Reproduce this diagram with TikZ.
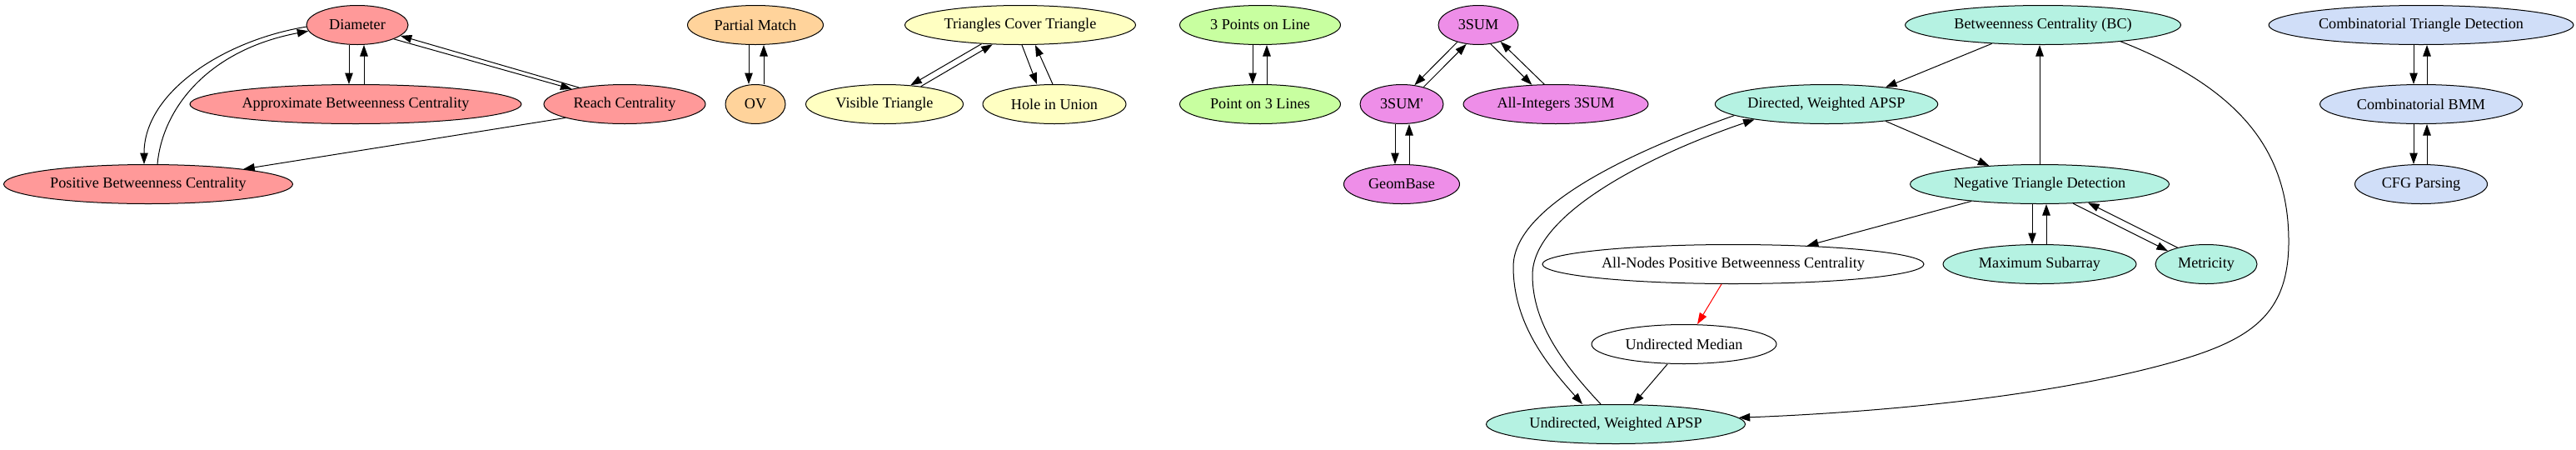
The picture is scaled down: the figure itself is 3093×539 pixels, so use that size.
\documentclass[tikz,border=0pt]{standalone}
\usepackage{fontspec}
\setmainfont{Liberation Serif}
\usetikzlibrary{shapes.geometric,arrows.meta}
\definecolor{cred}{HTML}{FF9999}
\definecolor{corange}{HTML}{FFD39B}
\definecolor{cyellow}{HTML}{FFFFC2}
\definecolor{cgreen}{HTML}{C8FFA0}
\definecolor{cpurple}{HTML}{EE8EE8}
\definecolor{cteal}{HTML}{B5F2E2}
\definecolor{cblue}{HTML}{D0DEF8}
\begin{document}
\begin{tikzpicture}[x=1pt,y=-1pt,
  nd/.style={ellipse,draw=black,line width=1pt,inner sep=0pt,minimum height=47pt,font=\fontsize{18.2}{22}\selectfont},
  ed/.style={line width=1pt,-{Triangle[length=13.5pt,width=9.5pt]}}]
\useasboundingbox (0,0) rectangle (3093,539);
% red
\node[nd,fill=cred,minimum width=122pt] (dia) at (429,30) {Diameter};
\node[nd,fill=cred,minimum width=398pt] (abc) at (427,125) {Approximate Betweenness Centrality};
\node[nd,fill=cred,minimum width=194pt] (reach) at (750,125) {Reach Centrality};
\node[nd,fill=cred,minimum width=347pt] (pbc) at (178,221) {Positive Betweenness Centrality};
% orange
\node[nd,fill=corange,minimum width=163pt] (pm) at (907,30) {Partial Match};
\node[nd,fill=corange,minimum width=72pt] (ov) at (907,125) {OV};
% yellow
\node[nd,fill=cyellow,minimum width=277pt] (tct) at (1225,30) {Triangles Cover Triangle};
\node[nd,fill=cyellow,minimum width=189pt] (vt) at (1062,125) {Visible Triangle};
\node[nd,fill=cyellow,minimum width=172pt] (hu) at (1266,125) {Hole in Union};
% green
\node[nd,fill=cgreen,minimum width=193pt] (p3l) at (1513,30) {3 Points on Line};
\node[nd,fill=cgreen,minimum width=193pt] (pol) at (1513,125) {Point on 3 Lines};
% purple
\node[nd,fill=cpurple,minimum width=96pt] (s3) at (1775,30) {3SUM};
\node[nd,fill=cpurple,minimum width=100pt] (s3p) at (1683,125) {3SUM\textquotesingle};
\node[nd,fill=cpurple,minimum width=222pt] (ai3) at (1868,125) {All-Integers 3SUM};
\node[nd,fill=cpurple,minimum width=139pt] (gb) at (1683,221) {GeomBase};
% teal
\node[nd,fill=cteal,minimum width=331pt] (bc) at (2453,30) {Betweenness Centrality (BC)};
\node[nd,fill=cteal,minimum width=257pt] (dwa) at (2193,125) {Directed, Weighted APSP};
\node[nd,fill=cteal,minimum width=311pt] (ntd) at (2449,221) {Negative Triangle Detection};
\node[nd,fill=white,minimum width=458pt] (anpbc) at (2081,317) {All-Nodes Positive Betweenness Centrality};
\node[nd,fill=cteal,minimum width=232pt] (ms) at (2449,317) {Maximum Subarray};
\node[nd,fill=cteal,minimum width=122pt] (met) at (2649,317) {Metricity};
\node[nd,fill=white,minimum width=222pt] (um) at (2022,413) {Undirected Median};
\node[nd,fill=cteal,minimum width=311pt] (uwa) at (1940,509) {Undirected, Weighted APSP};
% blue
\node[nd,fill=cblue,minimum width=366pt] (ctd) at (2907,30) {Combinatorial Triangle Detection};
\node[nd,fill=cblue,minimum width=243pt] (bmm) at (2907,125) {Combinatorial BMM};
\node[nd,fill=cblue,minimum width=159pt] (cfg) at (2907,221) {CFG Parsing};
% red edges
\draw[ed] ([xshift=-10pt]dia.south) -- ([xshift=-8pt]abc.north);
\draw[ed] ([xshift=10pt]abc.north) -- ([xshift=8pt]dia.south);
\draw[ed] (dia.-21) -- (reach.164);
\draw[ed] (reach.160) -- (dia.-14);
\draw[ed] (dia.182) .. controls (270,48) and (173,110) .. ([xshift=-5pt]pbc.north);
\draw[ed] ([xshift=11pt]pbc.north) .. controls (195,130) and (250,60) .. (dia.187);
\draw[ed] (reach.193) -- (pbc.9);
% orange edges
\draw[ed] ([xshift=-8pt]pm.south) -- ([xshift=-8pt]ov.north);
\draw[ed] ([xshift=10pt]ov.north) -- ([xshift=10pt]pm.south);
% yellow edges
\draw[ed] (tct.206) -- (vt.36);
\draw[ed] (vt.26) -- (tct.215);
\draw[ed] ([xshift=2pt]tct.south) -- ([xshift=-21pt]hu.north);
\draw[ed] ([xshift=-2pt]hu.north) -- ([xshift=18pt]tct.south);
% green edges
\draw[ed] ([xshift=-9pt]p3l.south) -- ([xshift=-9pt]pol.north);
\draw[ed] ([xshift=8pt]pol.north) -- ([xshift=8pt]p3l.south);
% purple edges
\draw[ed] (s3.219) -- (s3p.56);
\draw[ed] (s3p.38) -- (s3.238);
\draw[ed] (s3.303) -- (ai3.141);
\draw[ed] (ai3.120) -- (s3.323);
\draw[ed] ([xshift=-8pt]s3p.south) -- ([xshift=-8pt]gb.north);
\draw[ed] ([xshift=9pt]gb.north) -- ([xshift=9pt]s3p.south);
% teal edges
\draw[ed] (bc.200) -- (dwa.16);
\draw[ed] (dwa.-16) -- (ntd.160);
\draw[ed] (ntd.north) -- (ntd.north |- bc.south);
\draw[ed] (bc.-12) .. controls (2700,110) and (2748,190) .. (2748,290)
  .. controls (2748,380) and (2700,410) .. (2600,437)
  .. controls (2450,477.5) and (2250,495) .. (uwa.3);
\draw[ed] (ntd.194) -- (anpbc.14);
\draw[ed] ([xshift=-9pt]ntd.south) -- ([xshift=-9pt]ms.north);
\draw[ed] ([xshift=8pt]ms.north) -- ([xshift=8pt]ntd.south);
\draw[ed] (ntd.-30) -- (met.161);
\draw[ed] (met.150) -- (ntd.-21);
\draw[ed,red] ([xshift=-14pt]anpbc.south) -- ([xshift=16pt]um.north);
\draw[ed] ([xshift=-20pt]um.south) -- ([xshift=21pt]uwa.north);
\draw[ed] (dwa.187) .. controls (1950,185) and (1817,250) .. (1817,320)
  .. controls (1817,390) and (1860,440) .. ([xshift=-40pt]uwa.north);
\draw[ed] ([xshift=-18pt]uwa.north) .. controls (1880,440) and (1840,390) .. (1840,330)
  .. controls (1840,260) and (1970,190) .. (dwa.192);
% blue edges
\draw[ed] ([xshift=-9pt]ctd.south) -- ([xshift=-9pt]bmm.north);
\draw[ed] ([xshift=7pt]bmm.north) -- ([xshift=7pt]ctd.south);
\draw[ed] ([xshift=-9pt]bmm.south) -- ([xshift=-9pt]cfg.north);
\draw[ed] ([xshift=7pt]cfg.north) -- ([xshift=7pt]bmm.south);
\end{tikzpicture}
\end{document}
